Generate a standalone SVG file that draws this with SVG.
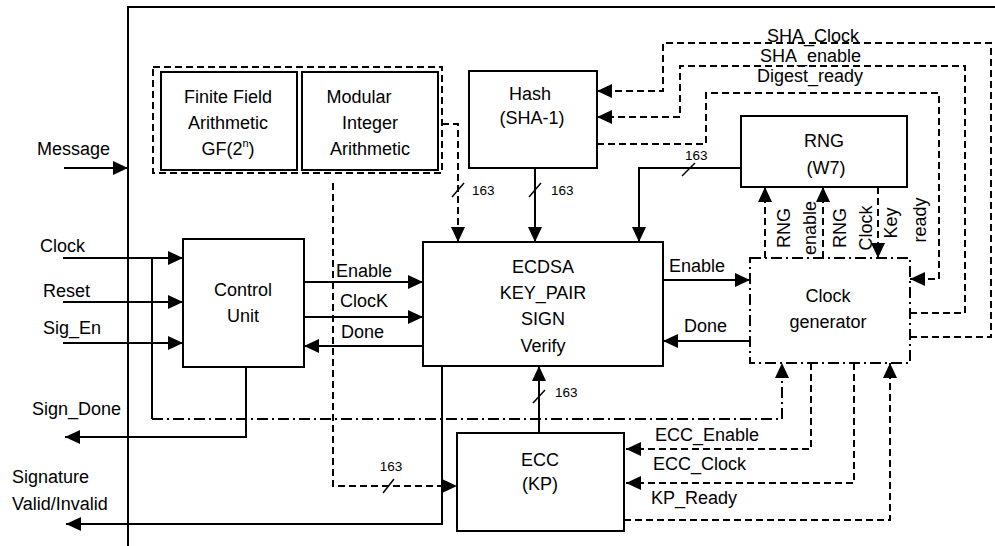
<svg xmlns="http://www.w3.org/2000/svg" width="995" height="546" viewBox="0 0 995 546">
<defs>
<marker id="arr" viewBox="0 0 15 14" refX="15" refY="7" markerWidth="15" markerHeight="14" markerUnits="userSpaceOnUse" orient="auto"><path d="M0,0 L15,7 L0,14 z" fill="#000"/></marker>
<style>
text{font-family:"Liberation Sans",Arial,sans-serif;font-size:18px;fill:#000}
.c{text-anchor:middle}
.s{font-size:13.5px}
.box{fill:#fff;stroke:#000;stroke-width:2}
.ln{fill:none;stroke:#000;stroke-width:2}
.da{fill:none;stroke:#000;stroke-width:2;stroke-dasharray:7,4}
.dd{fill:none;stroke:#000;stroke-width:2;stroke-dasharray:11,4,2,4}
.sl{stroke:#000;stroke-width:1.5}
</style>
</defs>
<rect width="995" height="546" fill="#fff"/>
<path class="ln" d="M128,546 V7 H995" stroke-width="2.5"/>

<g id="connectors">
<path class="ln" d="M64,168 H128" marker-end="url(#arr)"/>
<path class="ln" d="M63,258 H183" marker-end="url(#arr)"/>
<path class="ln" d="M63,302 H183" marker-end="url(#arr)"/>
<path class="ln" d="M63,343 H183" marker-end="url(#arr)"/>
<path class="ln" d="M152,258 V419"/>
<path class="dd" d="M152,419 H782 V363" marker-end="url(#arr)"/>
<path class="ln" d="M246,367 V437 H65" marker-end="url(#arr)"/>
<path class="ln" d="M442,366 V524 H66" marker-end="url(#arr)"/>
<path class="ln" d="M304,282 H423" marker-end="url(#arr)"/>
<path class="ln" d="M304,317 H423" marker-end="url(#arr)"/>
<path class="ln" d="M423,346 H304" marker-end="url(#arr)"/>
<path class="da" d="M333,183 V486 H457" marker-end="url(#arr)"/>
<line class="sl" x1="383" y1="493" x2="394" y2="479"/>
<path class="da" d="M442,124 H458 V242" marker-end="url(#arr)"/>
<line class="sl" x1="452" y1="197" x2="464" y2="183"/>
<path class="ln" d="M535,168 V242" marker-end="url(#arr)"/>
<line class="sl" x1="529" y1="197" x2="541" y2="183"/>
<path class="ln" d="M741,168 H639 V242" marker-end="url(#arr)"/>
<line class="sl" x1="682" y1="176" x2="695" y2="163"/>
<path class="da" d="M910,337 H991 V43 H663 V91 H597" marker-end="url(#arr)"/>
<path class="da" d="M910,313 H965 V66 H680 V117 H597" marker-end="url(#arr)"/>
<path class="da" d="M597,144 H706 V93 H939 V279 H910" marker-end="url(#arr)"/>
<path class="ln" d="M663,280 H750" marker-end="url(#arr)"/>
<path class="ln" d="M750,341 H663" marker-end="url(#arr)"/>
<path class="da" d="M765,258 V187" marker-end="url(#arr)"/>
<path class="da" d="M823,258 V187" marker-end="url(#arr)"/>
<path class="da" d="M878,187 V258" marker-end="url(#arr)"/>
<path class="da" d="M811,363 V449 H626" marker-end="url(#arr)"/>
<path class="da" d="M854,363 V483 H626" marker-end="url(#arr)"/>
<path class="da" d="M624,520 H890 V363" marker-end="url(#arr)"/>
<path class="ln" d="M539,433 V366" marker-end="url(#arr)"/>
<line class="sl" x1="533" y1="403" x2="545" y2="390"/>
</g>

<g id="labels">
<text x="37" y="155">Message</text>
<text x="40" y="252">Clock</text>
<text x="43" y="297">Reset</text>
<text x="43" y="334">Sig_En</text>
<text x="32" y="415">Sign_Done</text>
<text x="12" y="483">Signature</text>
<text x="12" y="510">Valid/Invalid</text>
<text x="336" y="277">Enable</text>
<text x="340" y="307">ClocK</text>
<text x="341" y="338">Done</text>
<text x="669" y="272">Enable</text>
<text x="684" y="332">Done</text>
<text x="767" y="42">SHA_Clock</text>
<text x="760" y="62">SHA_enable</text>
<text x="757" y="82">Digest_ready</text>
<text x="655" y="441">ECC_Enable</text>
<text x="653" y="470">ECC_Clock</text>
<text x="651" y="504">KP_Ready</text>
<text class="s c" x="391" y="471">163</text>
<text class="s" x="472" y="195">163</text>
<text class="s" x="551" y="195">163</text>
<text class="s" x="685" y="160">163</text>
<text class="s" x="555" y="397">163</text>
<text class="c" transform="translate(790,228) rotate(-90)">RNG</text>
<text class="c" transform="translate(816,228) rotate(-90)">enable</text>
<text class="c" transform="translate(846,228) rotate(-90)">RNG</text>
<text class="c" transform="translate(872,228) rotate(-90)">Clock</text>
<text class="c" transform="translate(897,223) rotate(-90)">Key</text>
<text class="c" transform="translate(926,220) rotate(-90)">ready</text>
</g>

<g id="arith-group">
<rect class="da" x="153" y="67" width="289" height="106"/>
</g>
<g id="finite-field">
<rect class="box" x="161" y="72" width="136" height="98"/>
<text class="c" x="228" y="103">Finite Field</text>
<text class="c" x="228" y="129">Arithmetic</text>
<text class="c" x="228" y="155">GF(2<tspan font-size="11" dy="-8">n</tspan><tspan dy="8">)</tspan></text>
</g>
<g id="modular">
<rect class="box" x="302" y="72" width="136" height="98"/>
<text class="c" x="359" y="103">Modular</text>
<text class="c" x="370" y="129">Integer</text>
<text class="c" x="370" y="155">Arithmetic</text>
</g>
<g id="hash">
<rect class="box" x="469" y="71" width="128" height="97"/>
<text class="c" x="530" y="100">Hash</text>
<text class="c" x="532" y="124">(SHA-1)</text>
</g>
<g id="rng">
<rect class="box" x="741" y="116" width="166" height="71"/>
<text class="c" x="824" y="147">RNG</text>
<text class="c" x="826" y="174">(W7)</text>
</g>
<g id="control-unit">
<rect class="box" x="183" y="239" width="121" height="128"/>
<text class="c" x="243" y="296">Control</text>
<text class="c" x="243" y="322">Unit</text>
</g>
<g id="ecdsa">
<rect class="box" x="423" y="242" width="240" height="124"/>
<text class="c" x="543" y="273">ECDSA</text>
<text class="c" x="543" y="299">KEY_PAIR</text>
<text class="c" x="543" y="325">SIGN</text>
<text class="c" x="543" y="352">Verify</text>
</g>
<g id="clock-generator">
<rect class="dd" x="750" y="258" width="160" height="105"/>
<text class="c" x="828" y="302">Clock</text>
<text class="c" x="828" y="328">generator</text>
</g>
<g id="ecc">
<rect class="box" x="457" y="433" width="167" height="98"/>
<text class="c" x="540" y="466">ECC</text>
<text class="c" x="540" y="490">(KP)</text>
</g>
</svg>
